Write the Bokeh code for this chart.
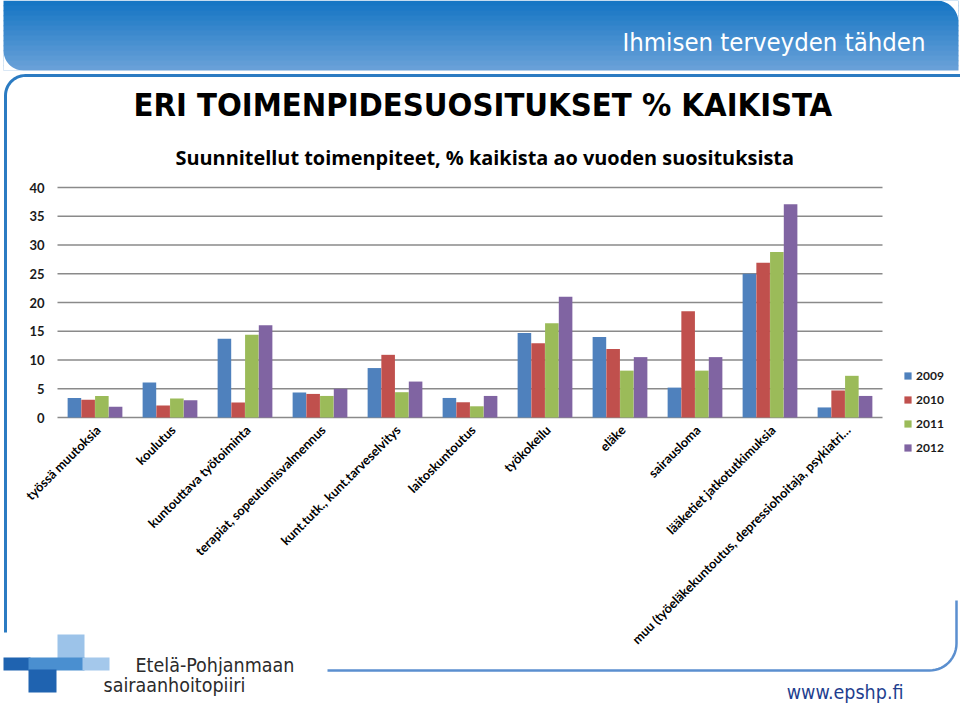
from math import pi, cos, sin, radians
from bokeh.plotting import figure
from bokeh.models import ColumnDataSource, Range1d, Legend, LegendItem
from bokeh.transform import dodge
from bokeh.core.properties import value
from bokeh.embed import file_html
from bokeh.resources import INLINE

# ---------------- data ----------------
categories = [
    "työssä muutoksia",
    "koulutus",
    "kuntouttava työtoiminta",
    "terapiat, sopeutumisvalmennus",
    "kunt.tutk., kunt.tarveselvitys",
    "laitoskuntoutus",
    "työkokeilu",
    "eläke",
    "sairausloma",
    "lääketiet jatkotutkimuksia",
    "muu (työeläkekuntoutus, depressiohoitaja, psykiatri…",
]
years = ["2009", "2010", "2011", "2012"]
v2009 = [3.4, 6.1, 13.7, 4.35, 8.6, 3.4, 14.7, 14.0, 5.2, 25.0, 1.75]
v2010 = [3.1, 2.1, 2.6, 4.1, 10.9, 2.65, 12.9, 11.9, 18.5, 26.9, 4.7]
v2011 = [3.75, 3.3, 14.4, 3.75, 4.4, 1.95, 16.4, 8.15, 8.15, 28.8, 7.25]
v2012 = [1.85, 3.0, 16.05, 5.0, 6.25, 3.75, 21.0, 10.5, 10.5, 37.1, 3.75]
y_ticks = [0, 5, 10, 15, 20, 25, 30, 35, 40]
y_tick_labels = [str(t) for t in y_ticks]

title_text = "ERI TOIMENPIDESUOSITUKSET % KAIKISTA"
subtitle_text = "Suunnitellut toimenpiteet, % kaikista ao vuoden suosituksista"
header_text = "Ihmisen terveyden tähden"
org_line1 = "Etelä-Pohjanmaan"
org_line2 = "sairaanhoitopiiri"
url_text = "www.epshp.fi"

# ---------------- styles / layout ----------------
colors = ["#4F81BD", "#C0504D", "#9BBB59", "#8064A2"]
offsets = [-0.2745, -0.0915, 0.0915, 0.2745]
bar_w = 0.181
CHART_FONT = "Lato"
SUB_FONT = "Open Sans"
COND = "DejaVu Sans Condensed"
FRAME_BLUE = "#2b7bc2"
FRAME_BLUE2 = "#5b8fcf"
GRID = "#8a8a8a"

W, H = 960, 706
FL, FT, FR, FB = 57, 187, 882, 417   # chart plotting area, page pixels
Y_MAX = 40.0
MID = 0.36                           # baseline -> text middle, fraction of font size

# one full-page canvas: main ranges are page pixels (y downwards)
p = figure(width=W, height=H, x_range=Range1d(0, W), y_range=Range1d(H, 0),
           output_backend="svg", toolbar_location=None, title=None,
           x_axis_location=None, y_axis_location=None, min_border=0)
p.grid.grid_line_color = None
p.outline_line_color = None
p.background_fill_color = "white"
p.border_fill_color = "white"

# chart scales placed onto the chart area
n_cat = len(categories)
cat_per_px = n_cat / (FR - FL)
val_per_px = Y_MAX / (FB - FT)
p.extra_x_ranges = {"cat": Range1d(-FL * cat_per_px - 0.5, (W - FL) * cat_per_px - 0.5)}
p.extra_y_ranges = {"val": Range1d(-(H - FB) * val_per_px, FB * val_per_px)}


def arc(cx, cy, r, a0, a1, n=14):
    return [(cx + r * cos(radians(a0 + (a1 - a0) * i / n)),
             cy + r * sin(radians(a0 + (a1 - a0) * i / n))) for i in range(n + 1)]


def pline(pts, color, width):
    p.line([q[0] for q in pts], [q[1] for q in pts], line_color=color, line_width=width,
           line_join="round", line_cap="butt")


def txt(X, baseline, s, size, font, color, style="normal", align="left"):
    p.text(x=[X], y=[baseline - MID * size], text=[s], text_font=value(font),
           text_font_size=value(f"{size}px"), text_font_style=style, text_color=color,
           text_align=align, text_baseline="middle")


# ---------------- header band ----------------
top_rgb = (22, 118, 196)
bot_rgb = (104, 160, 216)
n_strips = 14
lefts, rights, tops, bots, cols = [], [], [], [], []
for i in range(n_strips):
    t = i / (n_strips - 1)
    c = tuple(int(round(top_rgb[k] + (bot_rgb[k] - top_rgb[k]) * t)) for k in range(3))
    lefts.append(3)
    rights.append(958)
    tops.append(70 * i / n_strips)
    bots.append(min(70, 70 * (i + 1) / n_strips + 0.7))
    cols.append("#%02x%02x%02x" % c)
p.quad(left=lefts, right=rights, top=tops, bottom=bots, fill_color=cols, line_color=None)
m1 = [(958, 0)] + arc(936, 22, 22, 270, 360) + [(958, 0)]
m2 = [(3, 70)] + arc(23, 50, 20, 180, 90) + [(3, 70)]
p.patches([[q[0] for q in m1], [q[0] for q in m2]], [[q[1] for q in m1], [q[1] for q in m2]],
          fill_color="white", line_color=None)
txt(925, 51, header_text, 25.5, COND, "white", align="right")

# ---------------- frame lines ----------------
pline([(5, 632), (5, 95)] + arc(25, 95, 20, 180, 270) + [(960, 75)], FRAME_BLUE, 3)
pline([(327, 670), (929, 670)] + arc(929, 643, 27, 90, 0) + [(956, 643), (956, 600)],
      FRAME_BLUE2, 2.5)

# ---------------- titles ----------------
txt(133, 116, title_text, 32.5, COND, "#000000", style="bold")
txt(175, 164, subtitle_text, 19.9, SUB_FONT, "#000000", style="bold")

# ---------------- chart ----------------
grid_src = ColumnDataSource(dict(tick=y_ticks, label=y_tick_labels))
p.segment(x0=FL, x1=FR, y0="tick", y1="tick", source=grid_src, y_range_name="val",
          line_color=GRID, line_width=1.6)
p.text(x=FL - 13, y="tick", text="label", source=grid_src, y_range_name="val",
       text_font=value(CHART_FONT), text_font_size=value("13px"), text_font_style="bold",
       text_color="#1a1a1a", text_align="right", text_baseline="middle")

src = ColumnDataSource(dict(idx=list(range(n_cat)), cat=categories,
                            y2009=v2009, y2010=v2010, y2011=v2011, y2012=v2012))
renderers = []
for yr, col, off in zip(years, colors, offsets):
    r = p.vbar(x=dodge("idx", off), top="y" + yr, width=bar_w, source=src,
               x_range_name="cat", y_range_name="val", fill_color=col, line_color=None)
    renderers.append(r)

p.text(x="idx", y=0, text="cat", source=src, x_range_name="cat", y_range_name="val",
       angle=pi / 4, x_offset=3, y_offset=10,
       text_font=value(CHART_FONT), text_font_size=value("12.8px"), text_font_style="bold",
       text_color="#000000", text_align="right", text_baseline="middle")

legend = Legend(items=[LegendItem(label=yr, renderers=[r]) for yr, r in zip(years, renderers)],
                location=(903, H - 455), glyph_width=9, glyph_height=9,
                label_height=14, spacing=9, padding=0, margin=0, label_standoff=4,
                border_line_color=None, background_fill_alpha=0,
                label_text_font=CHART_FONT, label_text_font_style="bold",
                label_text_font_size="12px", label_text_color="#1a1a1a")
p.add_layout(legend)

# ---------------- logo and footer ----------------
logo_l = [57, 3, 28, 82, 28]
logo_r = [84, 30, 84, 109, 56]
logo_t = [634, 657, 657, 657, 669]
logo_b = [659, 670, 670, 670, 692]
logo_c = ["#9cc3e9", "#1f63b0", "#4a8fd0", "#a4c8eb", "#1f63b0"]
p.quad(left=logo_l, right=logo_r, top=logo_t, bottom=logo_b, fill_color=logo_c, line_color=None)
txt(135, 672, org_line1, 19.5, COND, "#2b2b2b")
txt(103, 692, org_line2, 19.5, COND, "#2b2b2b")
txt(903, 699, url_text, 19.5, COND, "#1f3f8f", align="right")

open("out.html", "w").write(file_html(p, INLINE))
